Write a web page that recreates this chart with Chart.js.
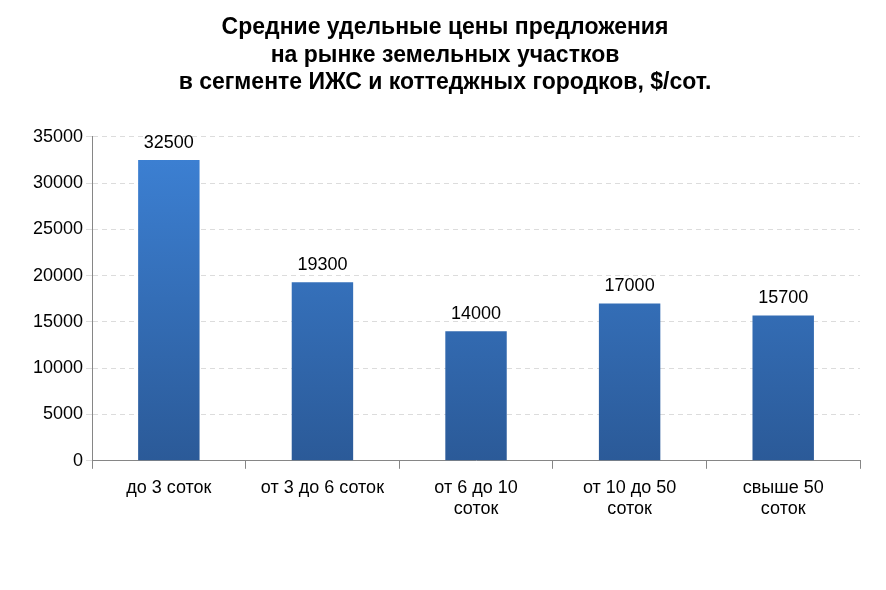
<!DOCTYPE html>
<html><head><meta charset="utf-8">
<script src="https://cdn.jsdelivr.net/npm/chart.js@4"></script>
<style>html,body{margin:0;padding:0;background:#fff}#w{width:886px;height:590px}</style>
</head><body><div id="w"><canvas id="c"></canvas></div>
<script>
const categories=[["до 3 соток"],["от 3 до 6 соток"],["от 6 до 10","соток"],["от 10 до 50","соток"],["свыше 50","соток"]];
const values=[32500,19300,14000,17000,15700];
const titleLines=["Средние удельные цены предложения","на рынке земельных участков","в сегменте ИЖС и коттеджных городков, $/сот."];
const F="'Liberation Sans', Arial, sans-serif";
const labelPlugin={id:'lbl',afterDatasetsDraw(ch){const ctx=ch.ctx;const m=ch.getDatasetMeta(0);ctx.save();ctx.font="18px "+F;ctx.fillStyle="#000";ctx.textAlign="center";ctx.textBaseline="bottom";m.data.forEach((b,i)=>{ctx.fillText(String(values[i]),b.x,b.y-8);});ctx.restore();}};
new Chart(document.getElementById('c'),{type:'bar',
data:{labels:categories,datasets:[{data:values,barPercentage:0.4,categoryPercentage:1,
backgroundColor(c){const a=c.chart.chartArea;if(!a)return '#3a7bc8';const g=c.chart.ctx.createLinearGradient(0,a.top,0,a.bottom);g.addColorStop(0,'#3d82d6');g.addColorStop(1,'#2b5a98');return g;}}]},
options:{responsive:true,maintainAspectRatio:false,animation:false,
layout:{padding:{left:30,right:26,top:0,bottom:62}},
plugins:{legend:{display:false},tooltip:{enabled:false},
title:{display:true,text:titleLines,color:'#000',font:{family:F,size:23,weight:'bold'},lineHeight:1.25,padding:{top:14,bottom:40}}},
scales:{y:{min:0,max:35000,ticks:{stepSize:5000,color:'#000',font:{family:F,size:18},callback:v=>String(v)},
grid:{color:'#dcdcdc',tickLength:6},border:{color:'#868686',dash:[5,4]}},
x:{ticks:{color:'#000',font:{family:F,size:18},padding:8},grid:{display:true,drawOnChartArea:false,color:'#868686',tickLength:8,offset:true},border:{color:'#868686'}}}}
,plugins:[labelPlugin]});
</script></body></html>
